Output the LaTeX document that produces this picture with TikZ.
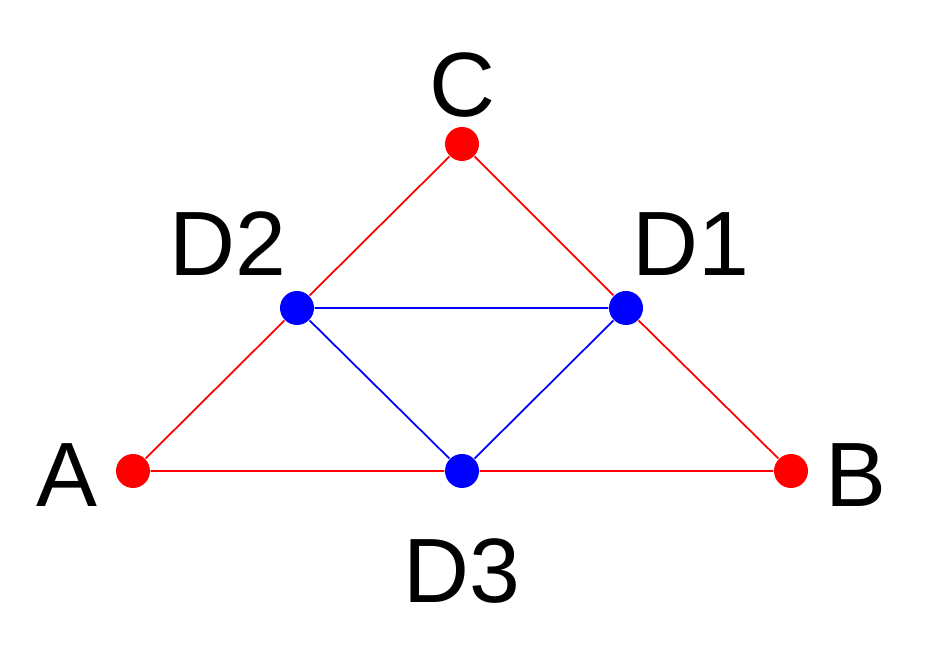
\documentclass[tikz,border=0pt]{standalone}
\usepackage{xcolor}
\usepackage{fontspec}
\setmainfont{Liberation Sans}
\usetikzlibrary{positioning}

\begin{document}
\begin{tikzpicture}[
  vertex/.style={circle,inner sep=0pt,minimum size=0.34cm},
  corner/.style={vertex,fill=red},
  mid/.style={vertex,fill=blue},
  outer/.style={draw=red,line width=0.5pt},
  inner/.style={draw=blue,line width=0.5pt},
  label/.style={font=\fontsize{26}{30}\selectfont,inner sep=0pt}
]
\useasboundingbox (0,0) rectangle (9.27,6.53);

% triangle corners
\node[corner] (A) at (1.33,1.82) {};
\node[corner] (B) at (7.91,1.82) {};
\node[corner] (C) at (4.62,5.09) {};

% midpoints
\node[mid] (D1) at (6.26,3.45) {};
\node[mid] (D2) at (2.97,3.45) {};
\node[mid] (D3) at (4.62,1.82) {};

% edges
\draw[outer] (A) -- (D2) -- (C) -- (D1) -- (B) -- (D3) -- (A);
\draw[inner] (D2) -- (D1) -- (D3) -- (D2);

% labels
\node[label] (lA) at (0.67,1.78) {A};
\node[label] (lB) at (8.56,1.78) {B};
\node[label] (lC) at (4.62,5.68) {C};
\node[label] (lD1) at (6.91,4.09) {D1};
\node[label] (lD2) at (2.28,4.09) {D2};
\node[label] (lD3) at (4.62,0.82) {D3};
\end{tikzpicture}
\end{document}
